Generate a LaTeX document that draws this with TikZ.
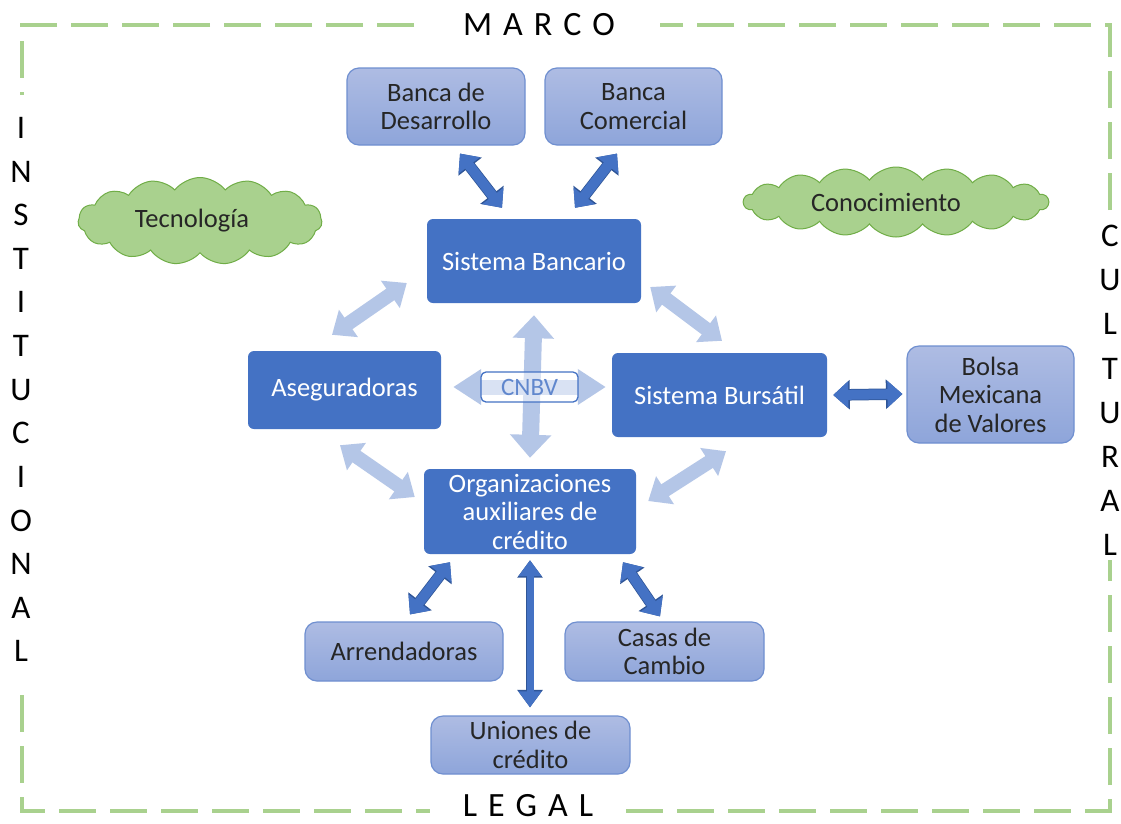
\documentclass[tikz,border=0pt]{standalone}
\usepackage{fontspec}
\setmainfont{Carlito}
\usetikzlibrary{arrows.meta,shapes.symbols}
\definecolor{dblue}{HTML}{4472C4}
\definecolor{dblueedge}{HTML}{2F5597}
\definecolor{lblueT}{HTML}{AEBCE3}
\definecolor{lblueB}{HTML}{8EA5DA}
\definecolor{lbedge}{HTML}{6F8FD0}
\definecolor{larr}{HTML}{B4C6E7}
\definecolor{gfill}{HTML}{A9D18E}
\definecolor{gedge}{HTML}{70AD47}
\definecolor{framecol}{HTML}{A9D18E}
\definecolor{txt}{HTML}{262626}
\begin{document}
\begin{tikzpicture}[x=1pt,y=1pt,
  lbl/.style={font=\fontsize{26.5}{28.5}\selectfont, align=center},
  darkbox/.style={lbl, rectangle, rounded corners=6pt, fill=dblue, text=white, inner sep=0pt},
  lightbox/.style={lbl, rectangle, rounded corners=12pt, draw=lbedge, line width=1.2pt, top color=lblueT, bottom color=lblueB, text=txt, inner sep=0pt},
  cloudnode/.style={lbl, cloud, cloud ignores aspect, cloud puff arc=105, draw=gedge, line width=1pt, fill=gfill, text=txt, inner sep=0pt},
  framedash/.style={draw=framecol, line width=4pt, dash pattern=on 37pt off 14pt},
  bigletter/.style={font=\fontsize{34}{34}\selectfont, text=black, inner sep=0pt},
  colletter/.style={font=\fontsize{33}{33}\selectfont, text=black, inner sep=0pt},
  darr/.style={draw=dblue, line width=10pt,
    {Triangle[length=15pt,width=26pt]}-{Triangle[length=15pt,width=26pt]},
    preaction={draw=dblueedge, line width=11.5pt,
    {Triangle[length=16.5pt,width=28.5pt]}-{Triangle[length=16.5pt,width=28.5pt]}}},
  darrthin/.style={draw=dblue, line width=7pt,
    {Triangle[length=16pt,width=22pt]}-{Triangle[length=16pt,width=22pt]},
    preaction={draw=dblueedge, line width=8.5pt,
    {Triangle[length=17.5pt,width=24.5pt]}-{Triangle[length=17.5pt,width=24.5pt]}}},
  larrow/.style={draw=larr, line width=14pt,
    {Triangle[length=20pt,width=32pt]}-{Triangle[length=20pt,width=32pt]}},
  crossv/.style={draw=larr, line width=17pt,
    {Triangle[length=23pt,width=40pt]}-{Triangle[length=23pt,width=40pt]}},
  crossh/.style={draw=larr, line width=15pt,
    {Triangle[length=28pt,width=34pt]}-{Triangle[length=28pt,width=34pt]}}
]
\useasboundingbox (0,0) rectangle (1121,-823);
\fill[white] (0,0) rectangle (1121,-823);

% frame
\draw[framedash] (414,-25) -- (22,-25) -- (22,-95);
\draw[framedash] (22,-695) -- (22,-811) -- (430,-811);
\draw[framedash] (626,-811) -- (1110,-811) -- (1110,-560);
\draw[framedash] (1110,-210) -- (1110,-25) -- (660,-25);

\node[bigletter] (marco) at (539,-25) {M\hspace{11pt}A\hspace{11pt}R\hspace{11pt}C\hspace{11pt}O};
\node[bigletter, anchor=base] (legal) at (528,-816) {L\hspace{11pt}E\hspace{11pt}G\hspace{11pt}A\hspace{11pt}L};

\foreach \l [count=\i from 0] in {I,N,S,T,I,T,U,C,I,O,N,A,L}
  \node[colletter] (inst\i) at (21,-128-43.6*\i) {\l};
\foreach \l [count=\i from 0] in {C,U,L,T,U,R,A,L}
  \node[colletter] (cult\i) at (1110,-236-44.2*\i) {\l};

% clouds
\node[cloudnode, cloud puffs=15, minimum width=244pt, minimum height=87pt] (tec) at (200,-221) {Tecnología\hspace{16pt}};
\node[cloudnode, cloud puffs=18, minimum width=305pt, minimum height=70pt] (con) at (896,-202) {Conocimiento\hspace{20pt}};

% boxes
\node[lightbox, minimum width=178pt, minimum height=77pt] (bd) at (436,-106.5) {Banca de\\Desarrollo};
\node[lightbox, minimum width=177pt, minimum height=77pt] (bc) at (633.5,-106.5) {Banca\\Comercial};
\node[darkbox, minimum width=214pt, minimum height=84pt] (sb) at (534,-261) {Sistema Bancario};
\node[darkbox, minimum width=193pt, minimum height=78pt] (as) at (344.5,-390) {Aseguradoras};
\node[darkbox, minimum width=215pt, minimum height=84pt] (bu) at (719.5,-395) {Sistema Bursátil};
\node[lightbox, minimum width=167pt, minimum height=97pt] (bmv) at (990.5,-394.5) {Bolsa\\Mexicana\\de Valores};
\node[darkbox, minimum width=212pt, minimum height=85pt] (oa) at (530,-511.5) {Organizaciones\\auxiliares de\\crédito};
\node[lightbox, minimum width=198pt, minimum height=59pt] (ar) at (404,-651.5) {Arrendadoras};
\node[lightbox, minimum width=199pt, minimum height=59pt] (cc) at (664.5,-651.5) {Casas de\\Cambio};
\node[lightbox, minimum width=199pt, minimum height=58pt] (uc) at (530.5,-745) {Uniones de\\crédito};

% dark arrows
\draw[darr] ([xshift=24pt,yshift=-8pt]bd.south) -- ([xshift=-32pt,yshift=11pt]sb.north);
\draw[darr] ([xshift=-16.5pt,yshift=-8pt]bc.south) -- ([xshift=41pt,yshift=11pt]sb.north);
\draw[darr] ([xshift=6pt]bu.east) -- ([xshift=-4pt,yshift=0.5pt]bmv.west);
\draw[darr] ([xshift=-80pt,yshift=-8pt]oa.south) -- ([xshift=6pt,yshift=7pt]ar.north);
\draw[darr] ([xshift=93pt,yshift=-8pt]oa.south) -- ([xshift=-4.5pt,yshift=5pt]cc.north);
\draw[darrthin] ([yshift=-6pt]oa.south) -- ([xshift=-0.5pt,yshift=8pt]uc.north);

% light arrows
\draw[larrow] ([xshift=-20pt,yshift=-22pt]sb.west) -- ([xshift=-12.5pt,yshift=16pt]as.north);
\draw[larrow] ([xshift=9pt,yshift=-26pt]sb.east) -- ([xshift=2.5pt,yshift=12pt]bu.north);
\draw[larrow] ([xshift=-4.5pt,yshift=-16pt]as.south) -- ([xshift=-9pt,yshift=14.5pt]oa.west);
\draw[larrow] ([xshift=6.5pt,yshift=-14pt]bu.south) -- ([xshift=12pt,yshift=10.5pt]oa.east);

% CNBV cross
\draw[crossv] ([yshift=-12pt]sb.south) -- ([yshift=11pt]oa.north);
\draw[crossh] ([xshift=12pt,yshift=3pt]as.east) -- ([xshift=-6pt,yshift=8pt]bu.west);
\node[lbl, rectangle, rounded corners=5pt, draw=dblue, line width=1.3pt, fill=white, fill opacity=0.5, text opacity=1, text=dblue!85, minimum width=97pt, minimum height=30pt, inner sep=0pt, font=\fontsize{25}{25}\selectfont] (cnbv) at (529.5,-387) {CNBV};
\end{tikzpicture}
\end{document}
